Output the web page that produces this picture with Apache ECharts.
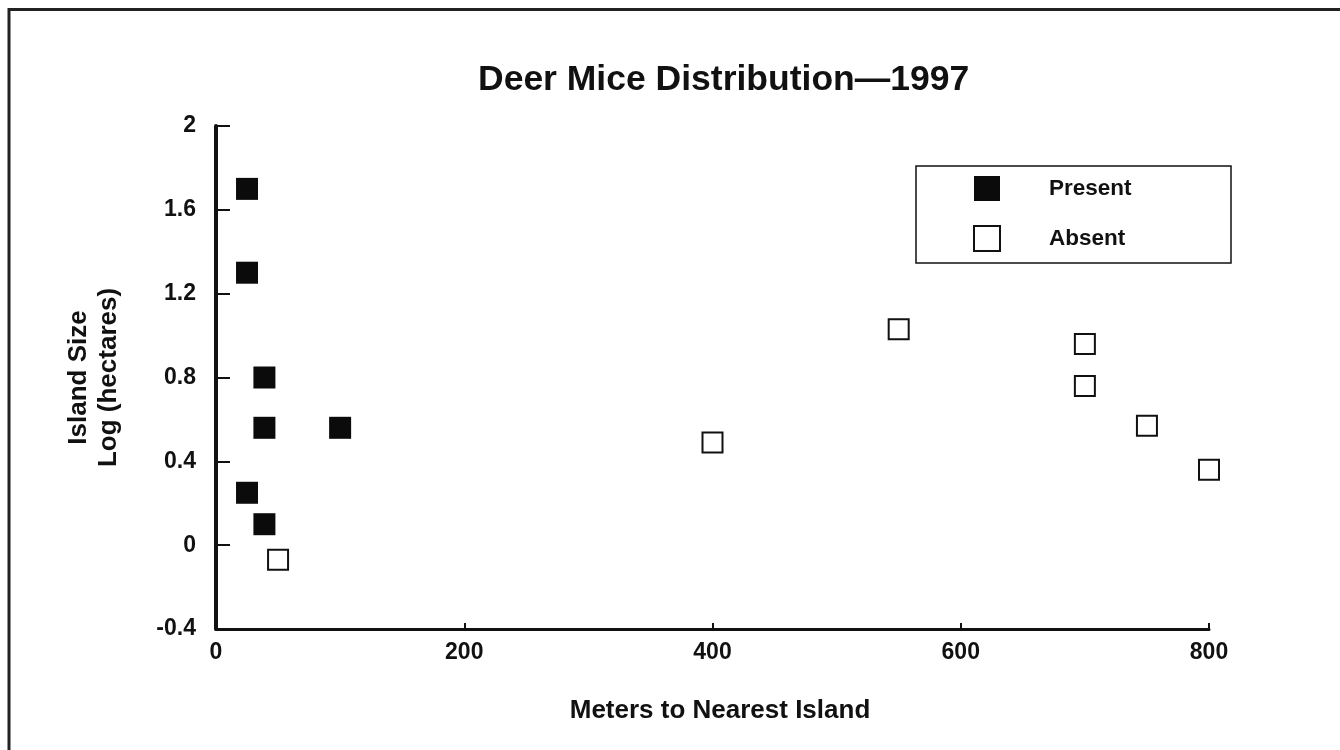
<!DOCTYPE html>
<html>
<head>
<meta charset="utf-8">
<script src="https://cdn.jsdelivr.net/npm/echarts@6/dist/echarts.min.js"></script>
<style>
html,body{margin:0;padding:0;background:#fff;}
#chart{width:1340px;height:750px;}
</style>
</head>
<body>
<div id="chart"></div>
<script>
// Data
var presentX = [25, 25, 39, 39, 100, 25, 39];
var presentY = [1.70, 1.30, 0.80, 0.56, 0.56, 0.25, 0.10];
var absentX = [50, 400, 550, 700, 700, 750, 800];
var absentY = [-0.07, 0.49, 1.03, 0.96, 0.76, 0.57, 0.36];
var seriesNames = ['Present', 'Absent'];
var titleText = 'Deer Mice Distribution\u20141997';
var xAxisName = 'Meters to Nearest Island';
var yAxisName = 'Island Size\nLog (hectares)';

function pairs(xs, ys) {
  return xs.map(function (x, i) { return [x, ys[i]]; });
}

var FONT = '"Liberation Sans", Arial, sans-serif';
var chart = echarts.init(document.getElementById('chart'), null, {renderer: 'canvas'});
chart.setOption({
  backgroundColor: '#fff',
  animation: false,
  title: {
    text: titleText,
    left: 473,
    top: 57,
    textStyle: {fontFamily: FONT, fontSize: 35.5, fontWeight: 'bold', color: '#111'}
  },
  graphic: [
    {type: 'rect', shape: {x: 9, y: 9.5, width: 1345, height: 760},
     style: {fill: 'none', stroke: '#222', lineWidth: 3}, silent: true},
    {type: 'rect', shape: {x: 916, y: 166, width: 315, height: 97},
     style: {fill: 'none', stroke: '#111', lineWidth: 1.5}, silent: true}
  ],
  legend: {
    orient: 'vertical',
    left: 973,
    top: 176,
    padding: 0,
    itemWidth: 26,
    itemHeight: 25,
    itemGap: 24,
    data: seriesNames,
    textStyle: {fontFamily: FONT, fontSize: 22.5, fontWeight: 'bold', color: '#111', padding: [0, 0, 0, 44]}
  },
  grid: {left: 216, right: 131, top: 126, bottom: 121, containLabel: false},
  xAxis: {
    type: 'value', min: 0, max: 800, interval: 200,
    name: xAxisName, nameLocation: 'middle', nameGap: 69,
    nameTextStyle: {fontFamily: FONT, fontSize: 26, fontWeight: 'bold', color: '#111', padding: [0, 0, 0, 15]},
    axisLine: {show: true, onZero: false, lineStyle: {color: '#111', width: 3}},
    axisTick: {show: true, inside: true, length: 6, lineStyle: {color: '#111', width: 2}},
    axisLabel: {fontFamily: FONT, fontSize: 23, fontWeight: 'bold', color: '#111', margin: 12},
    splitLine: {show: false}
  },
  yAxis: {
    type: 'value', min: -0.4, max: 2, interval: 0.4,
    name: yAxisName, nameLocation: 'middle', nameGap: 92, nameRotate: 90,
    nameTextStyle: {fontFamily: FONT, fontSize: 26, fontWeight: 'bold', color: '#111', lineHeight: 30},
    axisLine: {show: true, onZero: false, lineStyle: {color: '#111', width: 4}},
    axisTick: {show: true, inside: true, length: 14, lineStyle: {color: '#111', width: 2}},
    axisLabel: {fontFamily: FONT, fontSize: 23, fontWeight: 'bold', color: '#111', margin: 20,
      formatter: function (v) { return String(Math.round(v * 10) / 10); }},
    splitLine: {show: false}
  },
  series: [
    {
      name: seriesNames[0], type: 'scatter', symbol: 'rect', symbolSize: 22,
      itemStyle: {color: '#0b0b0b', opacity: 1},
      data: pairs(presentX, presentY)
    },
    {
      name: seriesNames[1], type: 'scatter', symbol: 'rect', symbolSize: 20,
      itemStyle: {color: '#fff', borderColor: '#111', borderWidth: 2, opacity: 1},
      data: pairs(absentX, absentY)
    }
  ]
});
</script>
</body>
</html>
